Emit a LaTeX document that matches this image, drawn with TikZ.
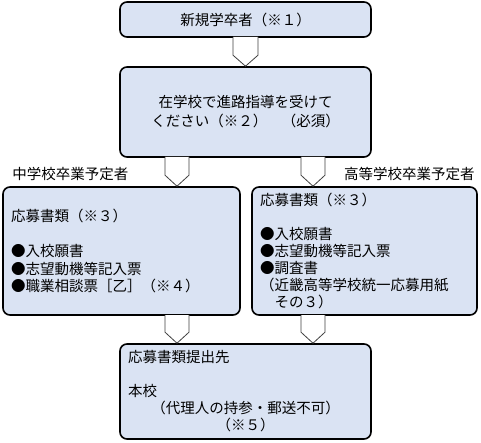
\documentclass[tikz,border=0pt]{standalone}
\usepackage{fontspec}
\setmainfont{Noto Sans CJK JP}
\usetikzlibrary{positioning}
\definecolor{boxblue}{RGB}{218,227,243}
\definecolor{edgegray}{RGB}{64,64,64}

\begin{document}
\begin{tikzpicture}[x=1pt,y=-1pt,
  box/.style={draw=black,fill=boxblue,line width=1.6pt,rounded corners=7pt,inner sep=0pt,font=\fontsize{14.5}{17.5}\selectfont},
  boxtext/.style={box,align=left,inner xsep=8pt,text width=#1},
  chev/.style={draw=edgegray,fill=white,line width=.8pt,line join=miter},
  tag/.style={inner sep=0pt,font=\fontsize{14.5}{17}\selectfont}]
\useasboundingbox (0,0) rectangle (481,443);

\node[box,minimum width=251,minimum height=35,align=center] (newgrad) at(245.5,19.5) {新規学卒者（※１）};
\node[box,minimum width=251,minimum height=90,align=center,font=\fontsize{14.5}{19}\selectfont] (guide) at(245.5,112) {在学校で進路指導を受けて\\ください（※２）　（必須）};
\node[boxtext=221pt,minimum width=237,minimum height=128] (junior) at(121.5,251) {応募書類（※３）\\[17.5pt]●入校願書\\●志望動機等記入票\\●職業相談票［乙］（※４）\\[17.5pt]};
\node[boxtext=209pt,minimum width=225,minimum height=128,font=\fontsize{14.5}{17}\selectfont] (senior) at(364.5,251) {応募書類（※３）\\[17pt]●入校願書\\●志望動機等記入票\\●調査書\\（近畿高等学校統一応募用紙\\　その３）};
\node[boxtext=235pt,minimum width=251,minimum height=95,font=\fontsize{14.5}{17}\selectfont] (submit) at(245.5,391.5) {応募書類提出先\\[17pt]本校\\\makebox[\linewidth][c]{（代理人の持参・郵送不可）}\\\makebox[\linewidth][c]{（※５）}};

\node[tag,anchor=west] (juniortag) at([xshift=10pt,yshift=12pt]junior.north west) {中学校卒業予定者};
\node[tag,anchor=east] (seniortag) at([xshift=-3pt,yshift=12pt]senior.north east) {高等学校卒業予定者};

% block arrows
\draw[chev] ([xshift=-12.5pt,yshift=.8pt]newgrad.south) -- ([xshift=-12.5pt,yshift=11pt]guide.north) -- (guide.north) -- ([xshift=12.5pt,yshift=11pt]guide.north) -- ([xshift=12.5pt,yshift=.8pt]newgrad.south);
\draw[chev] ([xshift=-80.5pt,yshift=.8pt]guide.south) -- ([xshift=43.5pt,yshift=11pt]junior.north) -- ([xshift=55.5pt]junior.north) -- ([xshift=67.5pt,yshift=11pt]junior.north) -- ([xshift=-56.5pt,yshift=.8pt]guide.south);
\draw[chev] ([xshift=55.5pt,yshift=.8pt]guide.south) -- ([xshift=-63.5pt,yshift=11pt]senior.north) -- ([xshift=-51.5pt]senior.north) -- ([xshift=-39.5pt,yshift=11pt]senior.north) -- ([xshift=79.5pt,yshift=.8pt]guide.south);
\draw[chev] ([xshift=43.5pt,yshift=.8pt]junior.south) -- ([xshift=-80.5pt,yshift=11pt]submit.north) -- ([xshift=-68.5pt]submit.north) -- ([xshift=-56.5pt,yshift=11pt]submit.north) -- ([xshift=67.5pt,yshift=.8pt]junior.south);
\draw[chev] ([xshift=-63.5pt,yshift=.8pt]senior.south) -- ([xshift=55.5pt,yshift=11pt]submit.north) -- ([xshift=67.5pt]submit.north) -- ([xshift=79.5pt,yshift=11pt]submit.north) -- ([xshift=-39.5pt,yshift=.8pt]senior.south);
\end{tikzpicture}
\end{document}
